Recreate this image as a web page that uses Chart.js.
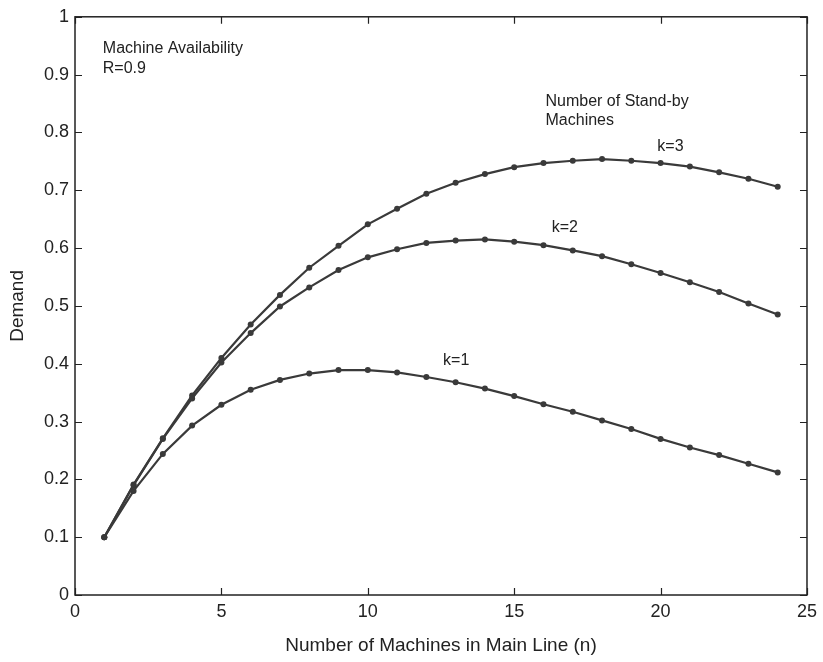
<!DOCTYPE html>
<html>
<head>
<meta charset="utf-8">
<script src="https://cdn.jsdelivr.net/npm/chart.js@4/dist/chart.umd.min.js"></script>
<style>
  html, body { margin: 0; padding: 0; background: #ffffff; }
  #wrap { width: 823px; height: 662px; position: relative; }
</style>
</head>
<body>
<div id="wrap"><canvas id="c" width="823" height="662"></canvas></div>
<script>
// ---- data ----
const machinesN = [1,2,3,4,5,6,7,8,9,10,11,12,13,14,15,16,17,18,19,20,21,22,23,24];
const demandK1 = [0.100,0.180,0.244,0.293,0.329,0.355,0.372,0.383,0.389,0.389,0.385,0.377,0.368,0.357,0.344,0.330,0.317,0.302,0.287,0.270,0.255,0.242,0.227,0.212];
const demandK2 = [0.100,0.190,0.270,0.340,0.402,0.453,0.499,0.532,0.562,0.584,0.598,0.609,0.613,0.615,0.611,0.605,0.596,0.586,0.572,0.557,0.541,0.524,0.504,0.485];
const demandK3 = [0.100,0.191,0.271,0.345,0.410,0.468,0.519,0.566,0.604,0.641,0.668,0.694,0.713,0.728,0.740,0.747,0.751,0.754,0.751,0.747,0.741,0.731,0.720,0.706];
const seriesNames = ['k=1','k=2','k=3'];
const xTitle = 'Number of Machines in Main Line (n)';
const yTitle = 'Demand';
const noteLines = ['Machine Availability', 'R=0.9'];
const standbyLines = ['Number of Stand-by', 'Machines'];

const lineColor = '#3a3a3a';
const toPts = arr => machinesN.map((n, i) => ({ x: n, y: arr[i] }));

const frameAndText = {
  id: 'frameAndText',
  afterDraw(chart) {
    const { ctx, chartArea: a, scales: { x, y } } = chart;
    ctx.save();
    ctx.strokeStyle = '#222';
    ctx.lineWidth = 1.5;
    ctx.strokeRect(a.left, a.top, a.right - a.left, a.bottom - a.top);
    const tl = 7;
    ctx.beginPath();
    x.ticks.forEach(t => {
      const px = Math.round(x.getPixelForValue(t.value)) + 0.5;
      ctx.moveTo(px, a.bottom); ctx.lineTo(px, a.bottom - tl);
      ctx.moveTo(px, a.top); ctx.lineTo(px, a.top + tl);
    });
    y.ticks.forEach(t => {
      const py = Math.round(y.getPixelForValue(t.value)) + 0.5;
      ctx.moveTo(a.left, py); ctx.lineTo(a.left + tl, py);
      ctx.moveTo(a.right, py); ctx.lineTo(a.right - tl, py);
    });
    ctx.lineWidth = 1.2;
    ctx.stroke();

    ctx.fillStyle = '#222';
    ctx.font = '16px "Liberation Sans", Arial, sans-serif';
    ctx.textAlign = 'left';
    ctx.textBaseline = 'middle';
    const put = (txt, xv, yv) => ctx.fillText(txt, x.getPixelForValue(xv), y.getPixelForValue(yv));
    put(noteLines[0], 0.95, 0.945);
    put(noteLines[1], 0.95, 0.911);
    put(standbyLines[0], 16.07, 0.853);
    put(standbyLines[1], 16.07, 0.821);
    put(seriesNames[2], 19.89, 0.775);
    put(seriesNames[1], 16.28, 0.635);
    put(seriesNames[0], 12.57, 0.405);
    ctx.restore();
  }
};

const mkDs = (label, arr) => ({
  label,
  data: toPts(arr),
  borderColor: lineColor,
  backgroundColor: lineColor,
  borderWidth: 2.2,
  pointRadius: 3,
  pointBorderWidth: 0,
  pointBackgroundColor: lineColor,
  tension: 0,
  fill: false
});

new Chart(document.getElementById('c'), {
  type: 'line',
  data: {
    datasets: [
      mkDs(seriesNames[0], demandK1),
      mkDs(seriesNames[1], demandK2),
      mkDs(seriesNames[2], demandK3)
    ]
  },
  options: {
    responsive: false,
    animation: false,
    devicePixelRatio: 1,
    layout: { padding: { top: 15, right: 14, left: 0, bottom: 0 } },
    plugins: { legend: { display: false }, tooltip: { enabled: false } },
    scales: {
      x: {
        type: 'linear',
        min: 0, max: 25,
        ticks: { stepSize: 5, color: '#222', padding: 6, font: { family: '"Liberation Sans", Arial, sans-serif', size: 18 } },
        grid: { display: false, drawTicks: false },
        border: { display: false },
        title: { display: true, text: xTitle, color: '#222', padding: { top: 0, bottom: 5 }, font: { family: '"Liberation Sans", Arial, sans-serif', size: 19 } },
        afterFit(s) { s.height = 67; }
      },
      y: {
        min: 0, max: 1,
        ticks: {
          stepSize: 0.1, color: '#222', padding: 6,
          font: { family: '"Liberation Sans", Arial, sans-serif', size: 18 },
          callback: v => String(Number(Number(v).toFixed(1)))
        },
        grid: { display: false, drawTicks: false },
        border: { display: false },
        title: { display: true, text: yTitle, color: '#222', padding: { top: 6, bottom: 0 }, font: { family: '"Liberation Sans", Arial, sans-serif', size: 19 } },
        afterFit(s) { s.width = 75; }
      }
    }
  },
  plugins: [frameAndText]
});
</script>
</body>
</html>
